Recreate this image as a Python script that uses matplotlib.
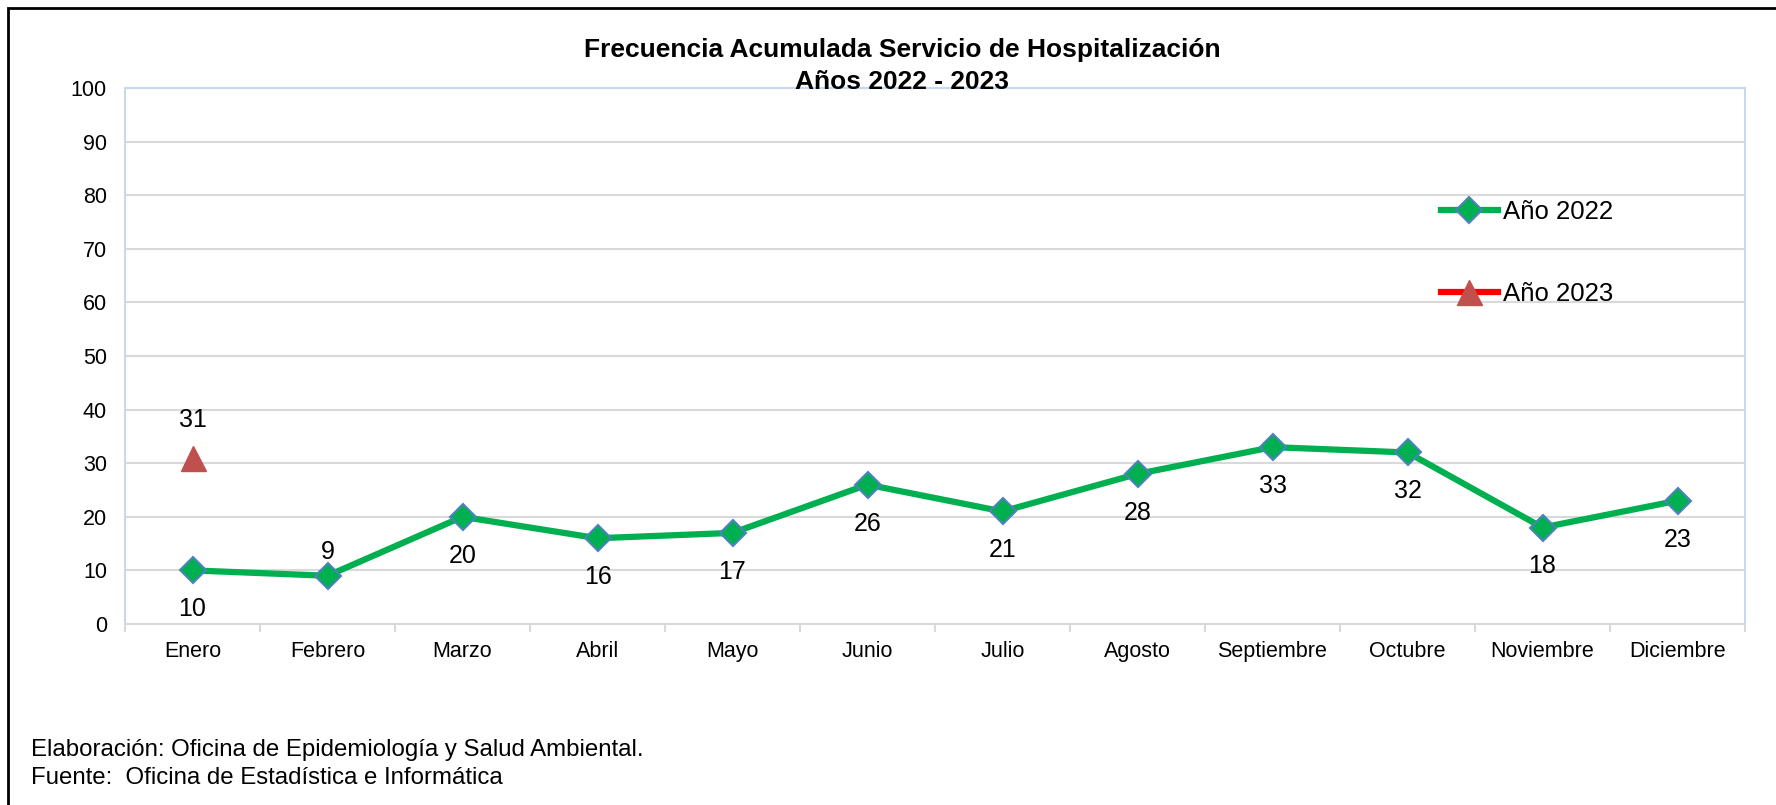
import matplotlib
matplotlib.use("Agg")
import matplotlib.pyplot as plt
from matplotlib.patches import Rectangle

plt.rcParams['font.family'] = ['Liberation Sans', 'DejaVu Sans']

# datos
meses = ["Enero", "Febrero", "Marzo", "Abril", "Mayo", "Junio", "Julio",
         "Agosto", "Septiembre", "Octubre", "Noviembre", "Diciembre"]
anio_2022 = [10, 9, 20, 16, 17, 26, 21, 28, 33, 32, 18, 23]
anio_2023 = [31]
y_ticks = [0, 10, 20, 30, 40, 50, 60, 70, 80, 90, 100]

W, H = 1776, 805
fig = plt.figure(figsize=(W / 100, H / 100), dpi=100)
ax = fig.add_axes([125 / W, 1 - 624 / H, (1745 - 125) / W, (624 - 88) / H])

x22 = list(range(len(anio_2022)))
x23 = list(range(len(anio_2023)))

ax.plot(x22, anio_2022, color='#00B050', lw=4.5, marker='D', ms=13,
        mfc='#00B050', mec='#4F81BD', mew=1.5, label='Año 2022', zorder=4)
ax.plot(x23, anio_2023, color='#FF0000', lw=4.5, marker='^', ms=18,
        mfc='#C0504D', mec='#C0504D', label='Año 2023', zorder=4)

# etiquetas de datos (febrero va arriba, el resto abajo)
for i, v in zip(x22, anio_2022):
    dy = 17 if i == 1 else -28
    ax.annotate(str(v), (i, v), xytext=(0, dy), textcoords='offset points',
                ha='center', va='center', fontsize=18)
for i, v in zip(x23, anio_2023):
    ax.annotate(str(v), (i, v), xytext=(0, 27), textcoords='offset points',
                ha='center', va='center', fontsize=18)

ax.set_xlim(-0.5, len(meses) - 0.5)
ax.set_ylim(0, 100)
ax.set_yticks(y_ticks)
ax.set_xticks(x22)
ax.set_xticklabels(meses)
ax.set_xticks([i - 0.5 for i in range(len(meses) + 1)], minor=True)
ax.tick_params(axis='x', which='major', length=0, pad=12, labelsize=15.5)
ax.tick_params(axis='x', which='minor', length=6, color='#D9D9D9', width=1.5)
ax.tick_params(axis='y', length=0, pad=13, labelsize=15.5)

ax.grid(axis='y', color='#D9D9D9', lw=1.5)
ax.set_axisbelow(True)
for s in ['left', 'right', 'top']:
    ax.spines[s].set_color('#C6D9F1')
    ax.spines[s].set_linewidth(1.5)
ax.spines['bottom'].set_color('#D9D9D9')
ax.spines['bottom'].set_linewidth(1.5)

ax.legend(loc='upper left', bbox_to_anchor=(1441 / W, 1 - 200 / H),
          bbox_transform=fig.transFigure, frameon=False, fontsize=18.5,
          handlelength=2.2, handletextpad=0.2, labelspacing=2.25,
          borderpad=0, borderaxespad=0)

fig.text(902 / W, 1 - 50 / H, "Frecuencia Acumulada Servicio de Hospitalización",
         ha='center', va='center', fontsize=19, fontweight='bold')
fig.text(902 / W, 1 - 82 / H, "Años 2022 - 2023",
         ha='center', va='center', fontsize=19, fontweight='bold')

fig.text(31 / W, 1 - 750 / H, "Elaboración: Oficina de Epidemiología y Salud Ambiental.",
         ha='left', va='center', fontsize=17.3)
fig.text(31 / W, 1 - 778 / H, "Fuente:  Oficina de Estadística e Informática",
         ha='left', va='center', fontsize=17.3)

# marco exterior
fig.add_artist(Rectangle((8 / W, -0.05), 1.1, 1 - 8 / H + 0.05,
                         transform=fig.transFigure, fill=False,
                         ec='black', lw=2))

fig.savefig('out.png', dpi=100)
